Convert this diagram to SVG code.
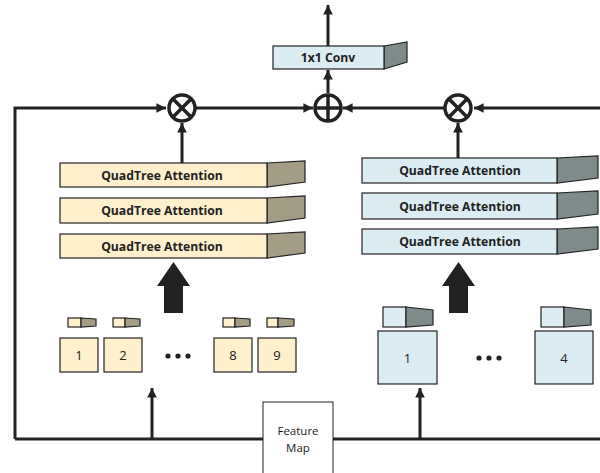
<svg xmlns="http://www.w3.org/2000/svg" width="600" height="473" viewBox="0 0 600 473">
<style>
.ln{stroke:#222;stroke-width:3;fill:none}
.op{stroke:#222;stroke-width:3.5;fill:#fff}
.opx{stroke:#222;stroke-width:3.5}
.yf{fill:#fdf0cb;stroke:#222;stroke-width:1.2}
.ys{fill:#a39d85;stroke:#222;stroke-width:1.2}
.bf{fill:#dbedf3;stroke:#222;stroke-width:1.2}
.bs{fill:#7f8b8b;stroke:#222;stroke-width:1.2}
.t{font-family:"Open Sans","Liberation Sans",sans-serif;font-weight:bold;font-size:12.2px;fill:#222;text-anchor:middle}
.n{font-family:"Open Sans","Liberation Sans",sans-serif;font-size:13px;fill:#222;text-anchor:middle}
.f{font-family:"Open Sans","Liberation Sans",sans-serif;font-size:11.5px;fill:#222;text-anchor:middle}
.big{fill:#222}
</style>
<defs>
<marker id="ah" viewBox="0 0 10 10" refX="10" refY="5" markerWidth="3.2" markerHeight="3.2" orient="auto" markerUnits="strokeWidth">
<path d="M0,0 L10,5 L0,10 Z" fill="#222"/>
</marker>
</defs>
<g id="connectors">
<polyline class="ln" points="15,439 263,439"/>
<polyline class="ln" points="333,439 600,439"/>
<polyline class="ln" points="15,439 15,108 166,108" marker-end="url(#ah)"/>
<line class="ln" x1="195" y1="108" x2="313" y2="108" marker-end="url(#ah)"/>
<line class="ln" x1="444" y1="108" x2="343" y2="108" marker-end="url(#ah)"/>
<line class="ln" x1="600" y1="108" x2="474" y2="108" marker-end="url(#ah)"/>
<line class="ln" x1="182" y1="163" x2="182" y2="123" marker-end="url(#ah)"/>
<line class="ln" x1="458" y1="158" x2="458" y2="123" marker-end="url(#ah)"/>
<line class="ln" x1="328" y1="93" x2="328" y2="70" marker-end="url(#ah)"/>
<line class="ln" x1="328" y1="46" x2="328" y2="5" marker-end="url(#ah)"/>
<line class="ln" x1="152" y1="439" x2="152" y2="388" marker-end="url(#ah)"/>
<line class="ln" x1="420" y1="439" x2="420" y2="388" marker-end="url(#ah)"/>
<path class="big" d="M164,313 L183,313 L183,286 L190,286 L173.5,262 L157,286 L164,286 Z"/>
<path class="big" d="M449,313 L468,313 L468,286 L475,286 L458.5,262 L442,286 L449,286 Z"/>
</g>
<g id="conv">
<polygon class="bs" points="384,46 407,42 407,62 384,69"/>
<rect class="bf" x="273" y="46" width="111" height="23"/>
<text class="t" x="328" y="62">1x1 Conv</text>
</g>
<g id="mul-left">
<circle class="op" cx="182" cy="108" r="13"/>
<line class="opx" x1="173" y1="99" x2="191" y2="117"/>
<line class="opx" x1="191" y1="99" x2="173" y2="117"/>
</g>
<g id="add">
<circle class="op" cx="328" cy="108" r="13"/>
<line class="opx" x1="315" y1="108" x2="341" y2="108"/>
<line class="opx" x1="328" y1="95" x2="328" y2="121"/>
</g>
<g id="mul-right">
<circle class="op" cx="458" cy="108" r="13"/>
<line class="opx" x1="449" y1="99" x2="467" y2="117"/>
<line class="opx" x1="467" y1="99" x2="449" y2="117"/>
</g>
<g id="left-attn-1">
<polygon class="ys" points="267,163 305,161 305,182 267,187"/>
<rect class="yf" x="60" y="163" width="207" height="24"/>
<text class="t" x="162" y="179.5">QuadTree Attention</text>
</g>
<g id="left-attn-2">
<polygon class="ys" points="267,198 305,196 305,218 267,223"/>
<rect class="yf" x="60" y="198" width="207" height="25"/>
<text class="t" x="162" y="215">QuadTree Attention</text>
</g>
<g id="left-attn-3">
<polygon class="ys" points="267,234 305,232 305,253 267,258"/>
<rect class="yf" x="60" y="234" width="207" height="24"/>
<text class="t" x="162" y="250.5">QuadTree Attention</text>
</g>
<g id="right-attn-1">
<polygon class="bs" points="557,158 598,156 598,178 557,183"/>
<rect class="bf" x="362" y="158" width="195" height="25"/>
<text class="t" x="460" y="175">QuadTree Attention</text>
</g>
<g id="right-attn-2">
<polygon class="bs" points="557,193 598,191 598,214 557,219"/>
<rect class="bf" x="362" y="193" width="195" height="26"/>
<text class="t" x="460" y="210.5">QuadTree Attention</text>
</g>
<g id="right-attn-3">
<polygon class="bs" points="557,229 598,227 598,249 557,254"/>
<rect class="bf" x="362" y="229" width="195" height="25"/>
<text class="t" x="460" y="246">QuadTree Attention</text>
</g>
<g id="tok-l1"><rect class="yf" x="68" y="318" width="13" height="9"/><polygon class="ys" points="81,318 96,319 96,326 81,327"/></g>
<g id="tok-l2"><rect class="yf" x="113" y="318" width="12" height="9"/><polygon class="ys" points="125,318 140,319 140,326 125,327"/></g>
<g id="tok-l8"><rect class="yf" x="223" y="318" width="12" height="9"/><polygon class="ys" points="235,318 250,319 250,326 235,327"/></g>
<g id="tok-l9"><rect class="yf" x="267" y="318" width="11" height="9"/><polygon class="ys" points="278,318 294,319 294,326 278,327"/></g>
<g id="patch-1"><rect class="yf" x="60" y="338" width="38" height="34"/><text class="n" x="79" y="360">1</text></g>
<g id="patch-2"><rect class="yf" x="104" y="338" width="38" height="34"/><text class="n" x="123" y="360">2</text></g>
<g id="patch-8"><rect class="yf" x="214" y="338" width="38" height="34"/><text class="n" x="233" y="360">8</text></g>
<g id="patch-9"><rect class="yf" x="258" y="338" width="38" height="34"/><text class="n" x="277" y="360">9</text></g>
<g id="dots-left" fill="#222"><circle cx="168" cy="356" r="2.6"/><circle cx="178" cy="356" r="2.6"/><circle cx="188" cy="356" r="2.6"/></g>
<g id="tok-r1"><rect class="bf" x="383" y="307" width="23" height="20"/><polygon class="bs" points="406,307 433,310 433,325 406,327"/></g>
<g id="tok-r4"><rect class="bf" x="541" y="307" width="23" height="20"/><polygon class="bs" points="564,307 591,310 591,325 564,327"/></g>
<g id="patch-r1"><rect class="bf" x="378" y="331" width="59" height="53"/><text class="n" x="407.5" y="362.5">1</text></g>
<g id="patch-r4"><rect class="bf" x="535" y="331" width="58" height="53"/><text class="n" x="564" y="362.5">4</text></g>
<g id="dots-right" fill="#222"><circle cx="479" cy="358" r="2.6"/><circle cx="489" cy="358" r="2.6"/><circle cx="499" cy="358" r="2.6"/></g>
<g id="feature-map">
<rect x="263" y="402" width="70" height="80" fill="#fff" stroke="#222" stroke-width="1"/>
<text class="f" x="298" y="435">Feature</text>
<text class="f" x="298" y="452">Map</text>
</g>
</svg>
